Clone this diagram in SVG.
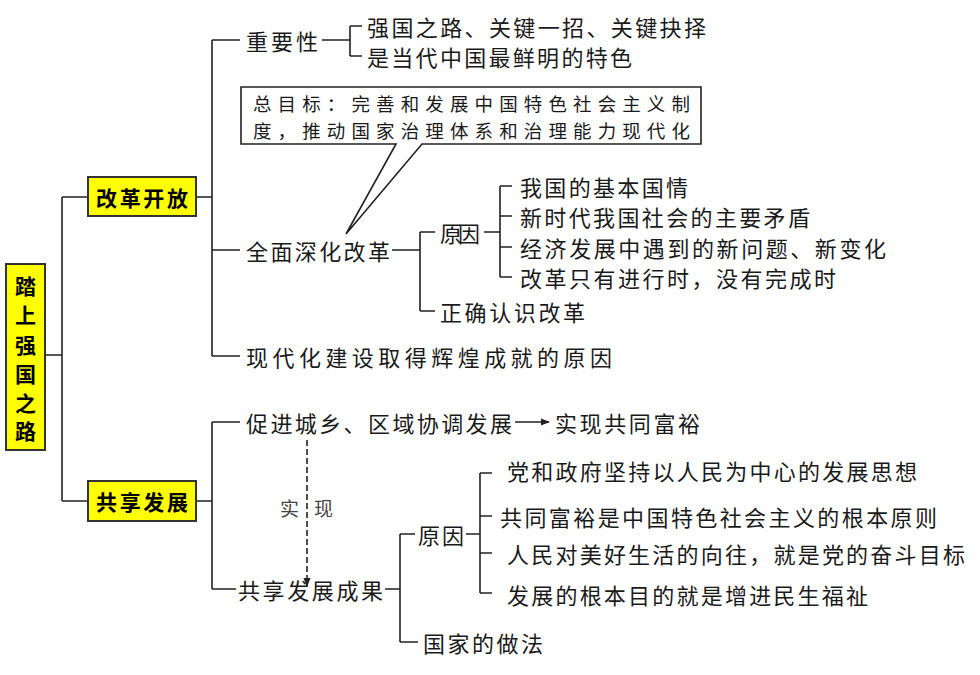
<svg xmlns="http://www.w3.org/2000/svg" width="980" height="675" viewBox="0 0 980 675">
<defs>
<style>
.t{font-family:"Noto Sans CJK SC","Noto Sans CJK JP",sans-serif;font-size:22px;fill:#1a1a1a;dominant-baseline:central}
.c{font-size:18.5px}
.b{font-family:"Noto Sans CJK SC","Noto Sans CJK JP",sans-serif;font-size:21px;font-weight:bold;fill:#000;dominant-baseline:central;text-anchor:middle}
.box{fill:#ffff00;stroke:#333;stroke-width:2}
.ln{fill:none;stroke:#222;stroke-width:1.6}
.g{fill:#444;font-size:19px}
</style>
<marker id="ah" viewBox="0 0 10 10" refX="9" refY="5" markerWidth="9" markerHeight="9" markerUnits="userSpaceOnUse" orient="auto">
<path d="M0,1 L10,5 L0,9 Z" fill="#222"/>
</marker>
</defs>
<rect width="980" height="675" fill="#fff"/>

<g id="connectors">
<path class="ln" d="M45,355 H62 M62,197 V501 M62,197 H88 M62,501 H88"/>
<path class="ln" d="M196,197 H212 M212,40 V356 M212,40 H240 M212,250 H240 M212,356 H240"/>
<path class="ln" d="M322,40 H350 M350,26 V56 M350,26 H362 M350,56 H362"/>
<path class="ln" d="M392,250 H420 M420,232 V311 M420,232 H435 M420,311 H435"/>
<path class="ln" d="M484,232 H500 M500,186 V277 M500,186 H512 M500,216 H512 M500,247 H512 M500,277 H512"/>
<path class="ln" d="M196,501 H212 M212,422 V589 M212,422 H240 M212,589 H236"/>
<path class="ln" d="M515,422 H549" marker-end="url(#ah)"/>
<path class="ln" d="M307,440 V586" stroke-dasharray="6 3" marker-end="url(#ah)"/>
<path class="ln" d="M385,589 H400 M400,534 V642 M400,534 H415 M400,642 H418"/>
<path class="ln" d="M466,534 H480 M480,473 V593 M480,473 H492 M480,516 H492 M480,553 H492 M480,593 H492"/>
</g>

<g id="root">
<rect class="box" x="6" y="264" width="39" height="186"/>
<text class="b" x="25.5" y="285">踏</text>
<text class="b" x="25.5" y="314">上</text>
<text class="b" x="25.5" y="344">强</text>
<text class="b" x="25.5" y="373">国</text>
<text class="b" x="25.5" y="402">之</text>
<text class="b" x="25.5" y="430">路</text>
</g>

<g id="gaige">
<rect class="box" x="88" y="177" width="108" height="39"/>
<text class="b" x="142" y="197" textLength="92" lengthAdjust="spacing">改革开放</text>
</g>

<g id="gongxiang">
<rect class="box" x="88" y="481" width="108" height="40"/>
<text class="b" x="142" y="501" textLength="92" lengthAdjust="spacing">共享发展</text>
</g>

<g id="zhongyaoxing">
<text class="t" x="246" y="40" textLength="72" lengthAdjust="spacing">重要性</text>
</g>
<g id="zy1"><text class="t" x="367" y="26" textLength="339" lengthAdjust="spacing">强国之路、关键一招、关键抉择</text></g>
<g id="zy2"><text class="t" x="367" y="56" textLength="265" lengthAdjust="spacing">是当代中国最鲜明的特色</text></g>

<g id="callout">
<path d="M241,87 H701 V144 H422 L346,234 L396,144 H241 Z" fill="#fff" stroke="#222" stroke-width="1.6"/>
<text class="t c" x="253" y="103" textLength="437" lengthAdjust="spacing">总目标：完善和发展中国特色社会主义制</text>
<text class="t c" x="253" y="130" textLength="437" lengthAdjust="spacing">度，推动国家治理体系和治理能力现代化</text>
</g>

<g id="shenhua"><text class="t" x="246" y="250" textLength="144" lengthAdjust="spacing">全面深化改革</text></g>
<g id="yuanyin1"><text class="t" x="440" y="232" textLength="40" lengthAdjust="spacing">原因</text></g>
<g id="y1a"><text class="t" x="520" y="186" textLength="168" lengthAdjust="spacing">我国的基本国情</text></g>
<g id="y1b"><text class="t" x="520" y="216" textLength="290" lengthAdjust="spacing">新时代我国社会的主要矛盾</text></g>
<g id="y1c"><text class="t" x="520" y="247" textLength="366" lengthAdjust="spacing">经济发展中遇到的新问题、新变化</text></g>
<g id="y1d"><text class="t" x="520" y="277" textLength="316" lengthAdjust="spacing">改革只有进行时，没有完成时</text></g>
<g id="zhengque"><text class="t" x="440" y="311" textLength="145" lengthAdjust="spacing">正确认识改革</text></g>
<g id="xiandaihua"><text class="t" x="246" y="356" textLength="366" lengthAdjust="spacing">现代化建设取得辉煌成就的原因</text></g>

<g id="cujin"><text class="t" x="246" y="422" textLength="266" lengthAdjust="spacing">促进城乡、区域协调发展</text></g>
<g id="shixian"><text class="t" x="555" y="422" textLength="145" lengthAdjust="spacing">实现共同富裕</text></g>
<g id="label-shixian">
<text class="t g" x="280" y="507">实</text>
<text class="t g" x="314" y="507">现</text>
</g>
<g id="chengguo"><text class="t" x="238" y="589" textLength="145" lengthAdjust="spacing">共享发展成果</text></g>
<g id="yuanyin2"><text class="t" x="418" y="534" textLength="46" lengthAdjust="spacing">原因</text></g>
<g id="y2a"><text class="t" x="507" y="470" textLength="410" lengthAdjust="spacing">党和政府坚持以人民为中心的发展思想</text></g>
<g id="y2b"><text class="t" x="500" y="516" textLength="437" lengthAdjust="spacing">共同富裕是中国特色社会主义的根本原则</text></g>
<g id="y2c"><text class="t" x="507" y="553" textLength="458" lengthAdjust="spacing">人民对美好生活的向往，就是党的奋斗目标</text></g>
<g id="y2d"><text class="t" x="507" y="594" textLength="361" lengthAdjust="spacing">发展的根本目的就是增进民生福祉</text></g>
<g id="zuofa"><text class="t" x="423" y="642" textLength="120" lengthAdjust="spacing">国家的做法</text></g>
</svg>
